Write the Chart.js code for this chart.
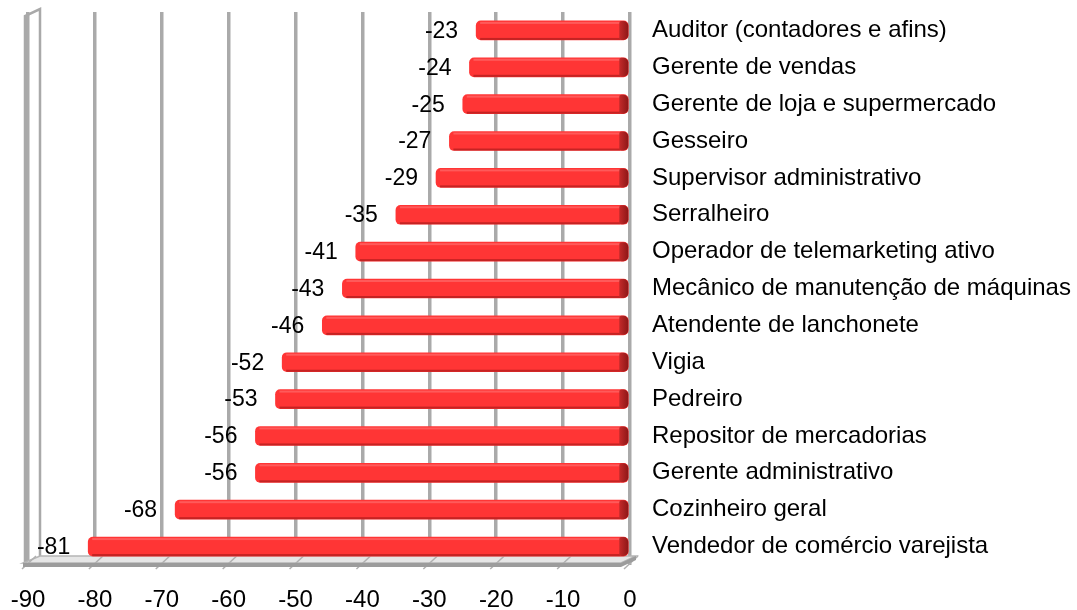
<!DOCTYPE html>
<html>
<head>
<meta charset="utf-8">
<script src="https://cdn.jsdelivr.net/npm/chart.js@4.4.1/dist/chart.umd.min.js"></script>
<style>
  html, body { margin: 0; padding: 0; background: #ffffff; }
  #wrap { width: 1077px; height: 610px; position: relative; }
</style>
</head>
<body>
<div id="wrap"><canvas id="c" width="1077" height="610"></canvas></div>
<script>
const categories = [
  "Auditor (contadores e afins)",
  "Gerente de vendas",
  "Gerente de loja e supermercado",
  "Gesseiro",
  "Supervisor administrativo",
  "Serralheiro",
  "Operador de telemarketing ativo",
  "Mecânico de manutenção de máquinas",
  "Atendente de lanchonete",
  "Vigia",
  "Pedreiro",
  "Repositor de mercadorias",
  "Gerente administrativo",
  "Cozinheiro geral",
  "Vendedor de comércio varejista"
];
const values = [-23, -24, -25, -27, -29, -35, -41, -43, -46, -52, -53, -56, -56, -68, -81];
const xMin = -90;
const xMax = 0;
const xStep = 10;

const FONT = "'Liberation Sans', Arial, sans-serif";

const decor = {
  id: 'decor',
  beforeDatasetsDraw(chart) {
    const ctx = chart.ctx;
    const a = chart.chartArea;
    ctx.save();
    ctx.strokeStyle = '#a9a9a9';
    ctx.lineWidth = 2.5;
    ctx.beginPath();
    ctx.moveTo(a.left - 3, a.bottom);
    ctx.lineTo(a.left - 3, a.top + 4);
    ctx.lineTo(a.left + 12, a.top - 3);
    ctx.lineTo(a.left + 12, a.bottom - 8);
    ctx.stroke();
    const backY = a.bottom - 9, frontY = a.bottom - 2;
    ctx.fillStyle = '#e6e6e6';
    ctx.beginPath();
    ctx.moveTo(a.left + 12, backY);
    ctx.lineTo(a.right + 6, backY);
    ctx.lineTo(a.right - 9, frontY);
    ctx.lineTo(a.left - 5, frontY);
    ctx.closePath();
    ctx.fill();
    ctx.strokeStyle = '#b5b5b5';
    ctx.lineWidth = 1.5;
    ctx.stroke();
    const xs = chart.scales.x;
    ctx.strokeStyle = '#b0b0b0';
    ctx.lineWidth = 1.5;
    xs.ticks.forEach(t => {
      const px = xs.getPixelForValue(t.value);
      ctx.beginPath();
      ctx.moveTo(px + 8, backY);
      ctx.lineTo(px - 6, frontY + 6);
      ctx.stroke();
    });
    ctx.fillStyle = '#9c9c9c';
    ctx.beginPath();
    ctx.moveTo(a.left - 5, frontY);
    ctx.lineTo(a.right - 9, frontY);
    ctx.lineTo(a.right + 6, backY);
    ctx.lineTo(a.right + 6, backY + 4);
    ctx.lineTo(a.right - 9, frontY + 4);
    ctx.lineTo(a.left - 5, frontY + 4);
    ctx.closePath();
    ctx.fill();
    ctx.restore();
  },
  afterDatasetsDraw(chart) {
    const ctx = chart.ctx;
    const meta = chart.getDatasetMeta(0);
    const ds = chart.data.datasets[0];
    ctx.save();
    meta.data.forEach((bar, i) => {
      const top = bar.y - bar.height / 2;
      const h = bar.height;
      const left = Math.min(bar.x, bar.base);
      const right = Math.max(bar.x, bar.base);
      ctx.fillStyle = 'rgba(255,120,120,0.55)';
      ctx.fillRect(left + 4, top + 1, right - left - 12, 2);
      ctx.fillStyle = 'rgba(150,20,20,0.55)';
      ctx.fillRect(left + 4, top + h - 2, right - left - 12, 2);
      const cw = 9;
      const g = ctx.createLinearGradient(right - cw, 0, right, 0);
      g.addColorStop(0, '#c42a2a');
      g.addColorStop(1, '#8e1717');
      ctx.fillStyle = g;
      ctx.beginPath();
      ctx.roundRect(right - cw, top, cw, h, [2, 5, 5, 2]);
      ctx.fill();
      ctx.fillStyle = '#000000';
      ctx.font = "23px " + FONT;
      ctx.textAlign = 'right';
      ctx.textBaseline = 'middle';
      ctx.fillText(String(ds.data[i]), left - 18, bar.y + 1);
    });
    ctx.restore();
  }
};

new Chart(document.getElementById('c'), {
  type: 'bar',
  data: {
    labels: categories,
    datasets: [{
      data: values,
      backgroundColor: '#ff3535',
      borderWidth: 0,
      borderRadius: 5,
      borderSkipped: false,
      barThickness: 19
    }]
  },
  options: {
    indexAxis: 'y',
    responsive: false,
    animation: false,
    devicePixelRatio: 1,
    layout: { padding: { left: 28, top: 12, right: 0, bottom: 0 } },
    plugins: { legend: { display: false }, tooltip: { enabled: false } },
    scales: {
      x: {
        min: xMin, max: xMax,
        ticks: { stepSize: xStep, color: '#000', font: { family: FONT, size: 24 }, padding: 21 },
        grid: { color: '#aaaaaa', lineWidth: 3.5, drawTicks: false },
        border: { display: false },
        afterFit(s) { s.height = 45; s.paddingLeft = 0; s.paddingRight = 0; }
      },
      y: {
        position: 'right',
        ticks: { color: '#000', font: { family: FONT, size: 24 }, crossAlign: 'near', padding: 22 },
        grid: { display: false, drawTicks: false },
        border: { display: false },
        afterFit(s) { s.width = 447; s.paddingTop = 0; s.paddingBottom = 0; }
      }
    }
  },
  plugins: [decor]
});
</script>
</body>
</html>
